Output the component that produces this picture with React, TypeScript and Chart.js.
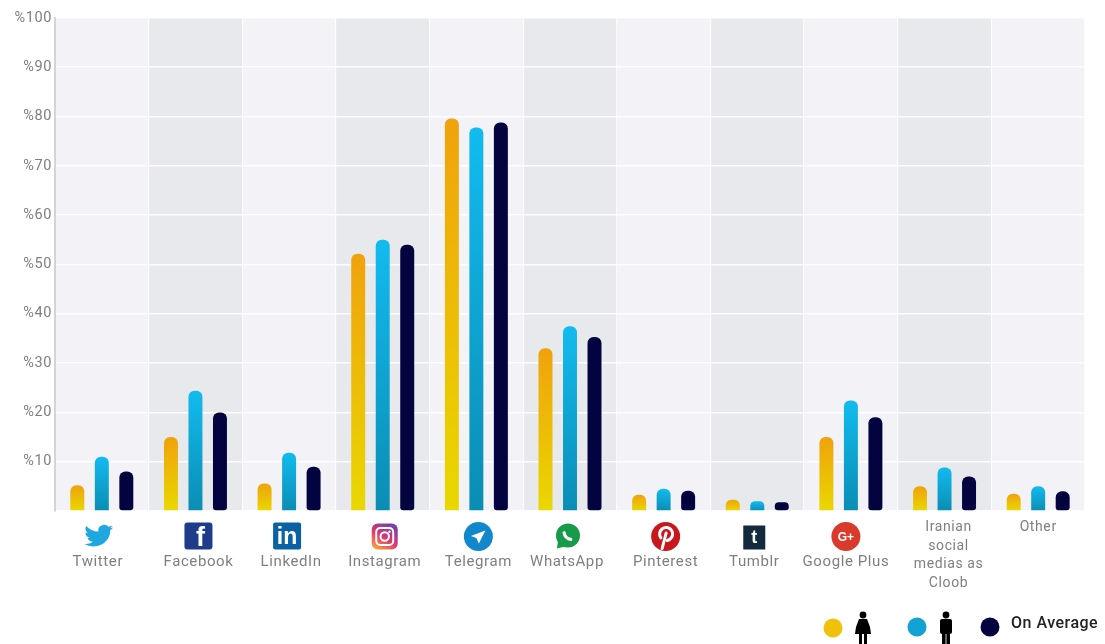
import React, { useEffect, useRef } from "react";
import { Chart, registerables } from "chart.js";

Chart.register(...registerables);

const categories = ["Twitter", "Facebook", "LinkedIn", "Instagram", "Telegram", "WhatsApp", "Pinterest", "Tumblr", "Google Plus", "Iranian social medias as Cloob", "Other"];
const women = [5.2, 15, 5.6, 52.2, 79.6, 33, 3.3, 2.3, 15, 5, 3.5];
const men = [11, 24.4, 11.8, 55, 77.8, 37.5, 4.5, 2, 22.4, 8.8, 5];
const average = [8, 20, 9, 54, 78.8, 35.3, 4.1, 1.8, 19, 7, 4];
const seriesLabels = ["Women", "Men", "On Average"];
const iconNames = ["twitter", "facebook", "linkedin", "instagram", "telegram", "whatsapp", "pinterest", "tumblr", "googleplus", "", ""];

const TWITTER_PATH = "M23.953 4.57a10 10 0 01-2.825.775 4.958 4.958 0 002.163-2.723c-.951.555-2.005.959-3.127 1.184a4.92 4.92 0 00-8.384 4.482C7.69 8.095 4.067 6.13 1.64 3.162a4.822 4.822 0 00-.666 2.475c0 1.71.87 3.213 2.188 4.096a4.904 4.904 0 01-2.228-.616v.06a4.923 4.923 0 003.946 4.827 4.996 4.996 0 01-2.212.085 4.936 4.936 0 004.604 3.417 9.867 9.867 0 01-6.102 2.105c-.39 0-.779-.023-1.17-.067a13.995 13.995 0 007.557 2.209c9.053 0 13.998-7.496 13.998-13.985 0-.21 0-.42-.015-.63A9.935 9.935 0 0024 4.59z";

function rr(c: CanvasRenderingContext2D, x: number, y: number, w: number, h: number, r: number) {
  c.beginPath();
  c.roundRect(x, y, w, h, r);
}
function disc(c: CanvasRenderingContext2D, x: number, y: number, r: number, color: string) {
  c.beginPath();
  c.arc(x, y, r, 0, Math.PI * 2);
  c.fillStyle = color;
  c.fill();
}
function glyph(c: CanvasRenderingContext2D, t: string, x: number, y: number, font: string, color = "#fff") {
  c.font = font;
  c.fillStyle = color;
  c.textAlign = "center";
  c.textBaseline = "middle";
  c.fillText(t, x, y);
}

function drawIcon(c: CanvasRenderingContext2D, name: string, x: number, y: number) {
  c.save();
  (c as any).letterSpacing = "0px";
  switch (name) {
    case "twitter": {
      c.translate(x - 14.5, y - 14);
      c.scale(1.2, 1.1);
      c.fillStyle = "#1fa7e0";
      c.fill(new Path2D(TWITTER_PATH));
      break;
    }
    case "facebook": {
      c.fillStyle = "#1f3c8a";
      rr(c, x - 14, y - 14, 28, 27, 3);
      c.fill();
      glyph(c, "f", x + 2, y + 2, "bold 27px 'Liberation Sans'");
      break;
    }
    case "linkedin": {
      c.fillStyle = "#0a62a5";
      rr(c, x - 14, y - 14, 28, 27, 2);
      c.fill();
      glyph(c, "in", x, y + 1, "bold 23px 'Liberation Sans'");
      break;
    }
    case "instagram": {
      const g = c.createLinearGradient(x - 8, y + 13, x + 8, y - 13);
      g.addColorStop(0, "#f9a13a");
      g.addColorStop(0.45, "#e0366f");
      g.addColorStop(1, "#6a3fb0");
      c.fillStyle = g;
      rr(c, x - 13, y - 13, 26, 26, 6);
      c.fill();
      c.strokeStyle = "#fff";
      c.lineWidth = 2;
      rr(c, x - 8.5, y - 8.5, 17, 17, 4);
      c.stroke();
      c.beginPath();
      c.arc(x, y, 4.2, 0, Math.PI * 2);
      c.stroke();
      disc(c, x + 4.8, y - 4.8, 1.2, "#fff");
      break;
    }
    case "telegram": {
      disc(c, x, y, 14.5, "#1288cc");
      c.fillStyle = "#fff";
      c.beginPath();
      c.moveTo(x + 7, y - 6);
      c.lineTo(x - 7.5, y - 0.5);
      c.lineTo(x - 2, y + 1.5);
      c.lineTo(x + 0.5, y + 7);
      c.closePath();
      c.fill();
      break;
    }
    case "whatsapp": {
      disc(c, x, y - 1, 12, "#179a4a");
      c.fillStyle = "#179a4a";
      c.beginPath();
      c.moveTo(x - 10, y + 4);
      c.lineTo(x - 11, y + 12);
      c.lineTo(x - 3, y + 10);
      c.closePath();
      c.fill();
      c.strokeStyle = "#fff";
      c.lineWidth = 3.2;
      c.lineCap = "round";
      c.beginPath();
      c.arc(x + 4, y - 5, 8, Math.PI * 0.55, Math.PI * 0.95);
      c.stroke();
      break;
    }
    case "pinterest": {
      disc(c, x, y, 14.5, "#c9171e");
      c.strokeStyle = "#fff";
      c.lineWidth = 3;
      c.lineCap = "round";
      c.beginPath();
      c.arc(x + 0.5, y - 2.5, 6.5, Math.PI * 0.8, Math.PI * 0.45);
      c.stroke();
      c.beginPath();
      c.moveTo(x + 0.5, y - 3.5);
      c.lineTo(x - 3.5, y + 12);
      c.stroke();
      break;
    }
    case "tumblr": {
      c.fillStyle = "#13293d";
      c.fillRect(x - 11, y - 11, 22, 24);
      glyph(c, "t", x, y + 2, "bold 18px 'Liberation Sans'");
      break;
    }
    case "googleplus": {
      disc(c, x, y, 14.5, "#d93a2b");
      glyph(c, "G+", x, y + 1, "bold 12px 'Liberation Sans'");
      break;
    }
  }
  c.restore();
}

function drawPerson(c: CanvasRenderingContext2D, x: number, y: number, female: boolean) {
  c.save();
  c.fillStyle = "#000";
  disc(c, x, y - 13, 3.4, "#000");
  if (female) {
    c.beginPath();
    c.moveTo(x - 4, y - 9);
    c.lineTo(x + 4, y - 9);
    c.lineTo(x + 7, y - 1);
    c.lineTo(x + 8, y + 6);
    c.lineTo(x - 8, y + 6);
    c.lineTo(x - 7, y - 1);
    c.closePath();
    c.fill();
    c.fillRect(x - 4, y + 6, 3, 10);
    c.fillRect(x + 1, y + 6, 3, 10);
  } else {
    rr(c, x - 6, y - 9, 12, 15, 2);
    c.fill();
    c.fillRect(x - 4, y + 4, 3.6, 12);
    c.fillRect(x + 0.4, y + 4, 3.6, 12);
  }
  c.restore();
}

const iconOffsets = [-3, 3, -2, 2, 2, -2, 2, -3, -5, 0, 0];
const labelOffsets = [-4, 3, 2, 2, 2, -3, 2, -3, -5, 4, 0];

const decor = {
  id: "decor",
  beforeDraw(chart: any) {
    const { ctx, chartArea, scales } = chart;
    const step = scales.x.getPixelForValue(1) - scales.x.getPixelForValue(0);
    ctx.save();
    categories.forEach((_, i) => {
      const cx = scales.x.getPixelForValue(i);
      ctx.fillStyle = i % 2 ? "#e8e9ed" : "#f2f2f7";
      ctx.fillRect(cx - step / 2, chartArea.top, step, chartArea.bottom - chartArea.top);
    });
    ctx.restore();
    ctx.letterSpacing = "0.6px";
    scales.x.getLabelItems(chartArea).forEach((item: any, i: number) => {
      item.options.translation[0] += labelOffsets[i];
    });
  },
  afterDraw(chart: any) {
    const { ctx, scales } = chart;
    iconNames.forEach((n, i) => {
      if (n) drawIcon(ctx, n, scales.x.getPixelForValue(i) + iconOffsets[i], 536.5);
    });
    ctx.save();
    disc(ctx, 833, 628, 9.5, "#efc10a");
    drawPerson(ctx, 863, 628, true);
    disc(ctx, 917, 627, 9.5, "#12a3d4");
    drawPerson(ctx, 946, 628, false);
    disc(ctx, 990, 627, 9.5, "#02033f");
    ctx.letterSpacing = "0.5px";
    ctx.font = "500 16px Roboto";
    ctx.fillStyle = "#222";
    ctx.textAlign = "left";
    ctx.textBaseline = "middle";
    ctx.fillText(chart.data.datasets[2].label, 1011, 624);
    ctx.restore();
  },
};

function gradientFill(top: string, bottom: string) {
  return (ctx: any) => {
    const chart = ctx.chart;
    const y = chart.scales?.y;
    const v = ctx.raw;
    if (!y || typeof v !== "number") return bottom;
    const y0 = y.getPixelForValue(v);
    const y1 = y.getPixelForValue(0);
    if (!Number.isFinite(y0) || !Number.isFinite(y1)) return bottom;
    const g = chart.ctx.createLinearGradient(0, y0, 0, y1);
    g.addColorStop(0, top);
    g.addColorStop(1, bottom);
    return g;
  };
}

function wrapLabel(label: string, i: number): string[] {
  if (label.startsWith("Iranian")) return ["Iranian", "social", "medias as", "Cloob"];
  if (iconNames[i]) return ["", "", label];
  return [label];
}

export default function App() {
  const ref = useRef<HTMLCanvasElement>(null);
  useEffect(() => {
    const chart = new Chart(ref.current as HTMLCanvasElement, {
      type: "bar",
      data: {
        labels: categories,
        datasets: [
          { label: seriesLabels[0], data: women, backgroundColor: gradientFill("#f0a20c", "#e9d800"), borderRadius: { topLeft: 6, topRight: 6, bottomLeft: 0, bottomRight: 0 } },
          { label: seriesLabels[1], data: men, backgroundColor: gradientFill("#12bbef", "#0a8db4"), borderRadius: { topLeft: 6, topRight: 6, bottomLeft: 0, bottomRight: 0 } },
          { label: seriesLabels[2], data: average, backgroundColor: "#02033f", borderRadius: { topLeft: 6, topRight: 6, bottomLeft: 3, bottomRight: 3 } },
        ],
      },
      options: {
        animation: false,
        responsive: false,
        layout: { padding: { top: 18, right: 20, left: 0, bottom: 0 } },
        plugins: { legend: { display: false }, tooltip: { enabled: false } },
        datasets: { bar: { categoryPercentage: 0.785, barPercentage: 0.57, borderSkipped: false } },
        scales: {
          x: {
            afterFit: (s: any) => { s.height = 133; },
            grid: { color: "rgba(255,255,255,0.8)", lineWidth: 1.2, drawTicks: false, offset: true },
            border: { display: false },
            ticks: {
              maxRotation: 0,
              autoSkip: false,
              padding: 7,
              color: "#7f7f7f",
              font: (c: any) => ({ family: "Roboto", size: iconNames[c.index] ? 15 : 14, lineHeight: iconNames[c.index] ? "17.5px" : "18.7px" }),
              callback: (_v: any, i: number) => wrapLabel(categories[i], i),
            },
          },
          y: {
            min: 0,
            max: 100,
            afterFit: (s: any) => { s.width = 55; },
            grid: { color: "rgba(255,255,255,0.9)", lineWidth: 1.6, drawTicks: false },
            border: { display: true, color: "#d3d4da", width: 2 },
            ticks: {
              stepSize: 10,
              padding: 3,
              color: "#7f7f7f",
              font: { family: "Roboto", size: 14.5 },
              callback: (v: any) => (v === 0 ? "" : `%${v}`),
            },
          },
        },
      },
      plugins: [decor],
    } as any);
    return () => chart.destroy();
  }, []);
  return <canvas ref={ref} width={1105} height={644} style={{ display: "block", position: "absolute", left: 0, top: 0, filter: "blur(0.4px)" }} />;
}
